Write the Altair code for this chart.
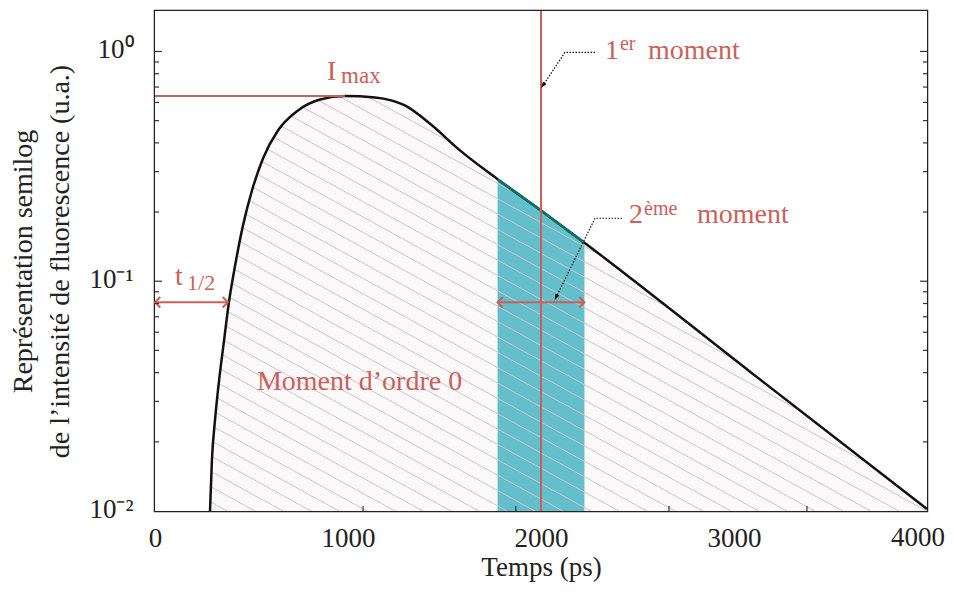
import altair as alt
import numpy as np
import pandas as pd

# ---------------- data ----------------
curve_t = [285, 295, 311, 332, 358, 383, 415, 456, 503, 560, 637, 741, 855, 984,
           1140, 1295, 1430, 1580, 1775, 2000, 2225, 3083, 4000]
curve_v = [0.01, 0.0167, 0.0249, 0.037, 0.0554, 0.081, 0.117, 0.175, 0.249, 0.343,
           0.453, 0.554, 0.618, 0.64, 0.631, 0.582, 0.481, 0.371, 0.278, 0.203,
           0.147, 0.0404, 0.0102]

x_ticks_labels = [0, 1000, 2000, 3000]
x_last_label = [4000]
x_minor_ticks = [1078, 1870, 2663, 3378]
y_label_vals = [0.01, 0.1, 1]
y_major_ticks = [0.1, 1]
y_minor_ticks = [0.02, 0.03, 0.04, 0.05, 0.06, 0.07, 0.08, 0.09,
                 0.2, 0.3, 0.4, 0.5, 0.6, 0.7, 0.8, 0.9]

t_min, t_max = 0, 4000
v_min, v_max = 0.01, 1.5

imax_value = 0.64
imax_t = 984
first_moment_t = 2000
second_moment_range = [1775, 2225]
arrow_level = 0.081
t_half_end = 378

texts_t = [528, 891, 964, 104, 166, 2332, 2409, 2554, 2456, 2534, 2808]
texts_v = [0.0335, 0.748, 0.726, 0.0963, 0.0915, 0.93, 1.01, 0.93, 0.179, 0.194, 0.179]
texts_s = ["Moment d\u2019ordre 0", "I", "max", "t", "1/2", "1", "er", "moment",
           "2", "\u00e8me", "moment"]
texts_fs = [28, 28, 23, 28, 22, 28, 20, 28, 28, 20, 28]

# dotted leader arrows (horizontal part start, elbow, arrow tip)
lead1_t = [2280, 2124, 2010]
lead1_v = [0.99, 0.99, 0.712]
lead2_t = [2420, 2280, 2078]
lead2_v = [0.188, 0.188, 0.0851]

RED = "#cc5f5a"
TEAL = "#62bfcb"
FONT = "Liberation Serif"
LABEL_SIZE = 27
LABEL_PAD = 14

W, H = 772, 500

xscale = alt.Scale(domain=[t_min, t_max], nice=False, zero=False)
yscale = alt.Scale(type="log", domain=[v_min, v_max], nice=False)

xaxis = alt.Axis(values=x_ticks_labels, format="d", ticks=False, domain=False, grid=False,
                 labelFontSize=LABEL_SIZE, labelPadding=LABEL_PAD, labelColor="#222",
                 labelFont=FONT,
                 title="Temps (ps)", titleFontSize=27, titleFontWeight="normal",
                 titleColor="#222", titleFont=FONT, titlePadding=3, labelFlush=False)
yaxis = alt.Axis(values=y_label_vals, ticks=False, domain=False, grid=False,
                 labelExpr="datum.value < 0.05 ? '10\u207b\u00b2' : datum.value < 0.5 ? '10\u207b\u00b9' : '10\u2070'",
                 labelFontSize=27, labelPadding=22, labelColor="#222", labelFont=FONT,
                 labelOffset=-2,
                 title=["Repr\u00e9sentation semilog",
                        "de l\u2019intensit\u00e9 de fluorescence (u.a.)"],
                 titleFontSize=28, titleFontWeight="normal", titleColor="#222",
                 titleFont=FONT, titleLineHeight=37, titlePadding=14)


def X(field="t"):
    return alt.X(f"{field}:Q", scale=xscale, axis=xaxis)


def Y(field="v"):
    return alt.Y(f"{field}:Q", scale=yscale, axis=yaxis)


curve = pd.DataFrame({"t": curve_t, "v": curve_v})
curve["v0"] = v_min
curve["vtop"] = v_max
teal_df = curve[(curve.t >= second_moment_range[0]) & (curve.t <= second_moment_range[1])]

# ---------------- layers ----------------
fill = alt.Chart(curve).mark_area(color="#fcf9fa", interpolate="monotone").encode(
    x=X(), y=Y(), y2="v0:Q")

teal = alt.Chart(teal_df).mark_area(color=TEAL, interpolate="monotone").encode(
    x=X(), y=Y(), y2="v0:Q")

# hatch pattern lines (decorative fill style)
hatch_step = 145
hatch_slope = 0.000461
hrows = []
for k, t0 in enumerate(np.arange(-5000, 4300, hatch_step)):
    hrows.append({"id": k, "t": float(t0), "v": 3.0})
    hrows.append({"id": k, "t": float(t0 + 6000), "v": 3.0 * 10 ** (-hatch_slope * 6000)})
hatch_df = pd.DataFrame(hrows)
hatch = alt.Chart(hatch_df).mark_line(clip=True, color="#d3c3c7", strokeWidth=1).encode(
    x=X(), y=Y(), detail="id:N")

cover = alt.Chart(curve).mark_area(color="white", interpolate="monotone").encode(
    x=X(), y=Y(), y2="vtop:Q")
left_cover = alt.Chart(pd.DataFrame({"t": [t_min], "t2": [curve_t[0]], "v": [v_min], "v2": [v_max]})
                       ).mark_rect(color="white").encode(x=X(), x2="t2:Q", y=Y(), y2="v2:Q")

line = alt.Chart(curve).mark_line(color="#111", strokeWidth=2.5, interpolate="monotone").encode(
    x=X(), y=Y())
teal_line = alt.Chart(teal_df).mark_line(color="#0d7369", strokeWidth=2.5, interpolate="monotone").encode(
    x=X(), y=Y())

imax_line = alt.Chart(pd.DataFrame({"t": [t_min, imax_t], "v": [imax_value, imax_value]})
                      ).mark_line(color=RED, strokeWidth=2).encode(x=X(), y=Y())
m1_line = alt.Chart(pd.DataFrame({"t": [first_moment_t], "v": [v_min], "v2": [v_max]})
                    ).mark_rule(color=RED, strokeWidth=2).encode(x=X(), y=Y(), y2="v2:Q")

arr_df = pd.DataFrame({"t": [t_min, t_half_end, second_moment_range[0], second_moment_range[1]],
                       "v": [arrow_level] * 4, "g": ["a", "a", "b", "b"],
                       "shape": ["M1,-1L0,0L1,1", "M-1,-1L0,0L-1,1",
                                 "M1,-1L0,0L1,1", "M-1,-1L0,0L-1,1"]})
arr_lines = alt.Chart(arr_df).mark_line(color=RED, strokeWidth=2).encode(
    x=X(), y=Y(), detail="g:N")
arr_heads = alt.Chart(arr_df).mark_point(color=RED, strokeWidth=2, filled=False, size=110,
                                         opacity=1).encode(
    x=X(), y=Y(), shape=alt.Shape("shape:N", scale=None))

lead_df = pd.DataFrame({"t": lead1_t + lead2_t, "v": lead1_v + lead2_v,
                        "g": ["a"] * 3 + ["b"] * 3, "o": [0, 1, 2] * 2})
leads = alt.Chart(lead_df).mark_line(color="#111", strokeWidth=1.2, strokeDash=[1.5, 1.5]).encode(
    x=X(), y=Y(), detail="g:N", order="o:Q")
tips = pd.DataFrame({"t": [lead1_t[2], lead2_t[2]], "v": [lead1_v[2], lead2_v[2]],
                     "ang": [213.7, 206.3]})
lead_heads = alt.Chart(tips).mark_point(shape="M0,-1L-0.7,1L0.7,1Z", filled=True, color="#111",
                                        size=40, opacity=1).encode(
    x=X(), y=Y(), angle=alt.Angle("ang:Q", scale=None))

txt_df = pd.DataFrame({"t": texts_t, "v": texts_v, "s": texts_s, "fs": texts_fs})
texts = alt.Chart(txt_df).mark_text(color=RED, align="left", baseline="alphabetic",
                                    font=FONT).encode(
    x=X(), y=Y(), text="s:N", size=alt.Size("fs:Q", scale=None))

# last x label, kept inside the page edge
last_lab = alt.Chart(pd.DataFrame({"t": x_last_label})).mark_text(
    color="#222", font=FONT, fontSize=LABEL_SIZE, align="right", baseline="top", dx=18,
).encode(x=X(), y=alt.value(H + LABEL_PAD), text=alt.Text("t:Q", format="d"))

# inward tick marks on the frame
TICK = "#333"
lt_minor = alt.Chart(pd.DataFrame({"v": y_minor_ticks})).mark_rule(color=TICK, strokeWidth=1.2).encode(
    x=alt.value(0), x2=alt.value(4), y=Y())
lt_major = alt.Chart(pd.DataFrame({"v": y_major_ticks})).mark_rule(color=TICK, strokeWidth=1.2).encode(
    x=alt.value(0), x2=alt.value(7), y=Y())
rt_minor = alt.Chart(pd.DataFrame({"v": y_minor_ticks})).mark_rule(color=TICK, strokeWidth=1.2).encode(
    x=alt.value(W - 4), x2=alt.value(W), y=Y())
rt_major = alt.Chart(pd.DataFrame({"v": y_major_ticks})).mark_rule(color=TICK, strokeWidth=1.2).encode(
    x=alt.value(W - 7), x2=alt.value(W), y=Y())
bt = alt.Chart(pd.DataFrame({"t": x_minor_ticks})).mark_rule(color=TICK, strokeWidth=1.2).encode(
    x=X(), y=alt.value(H), y2=alt.value(H - 5))

chart = alt.layer(
    fill, teal, hatch, cover, left_cover, line, teal_line,
    imax_line, m1_line, arr_lines, arr_heads, leads, lead_heads, texts, last_lab,
    lt_minor, lt_major, rt_minor, rt_major, bt,
).properties(
    width=W, height=H,
    autosize=alt.AutoSizeParams(type="none"),
    padding={"left": 147, "top": 3, "right": 19, "bottom": 73},
).configure(
    font=FONT,
).configure_view(
    stroke="#222", strokeWidth=2.5,
)

chart.save("out.html", embed_options={"renderer": "svg", "actions": False})
